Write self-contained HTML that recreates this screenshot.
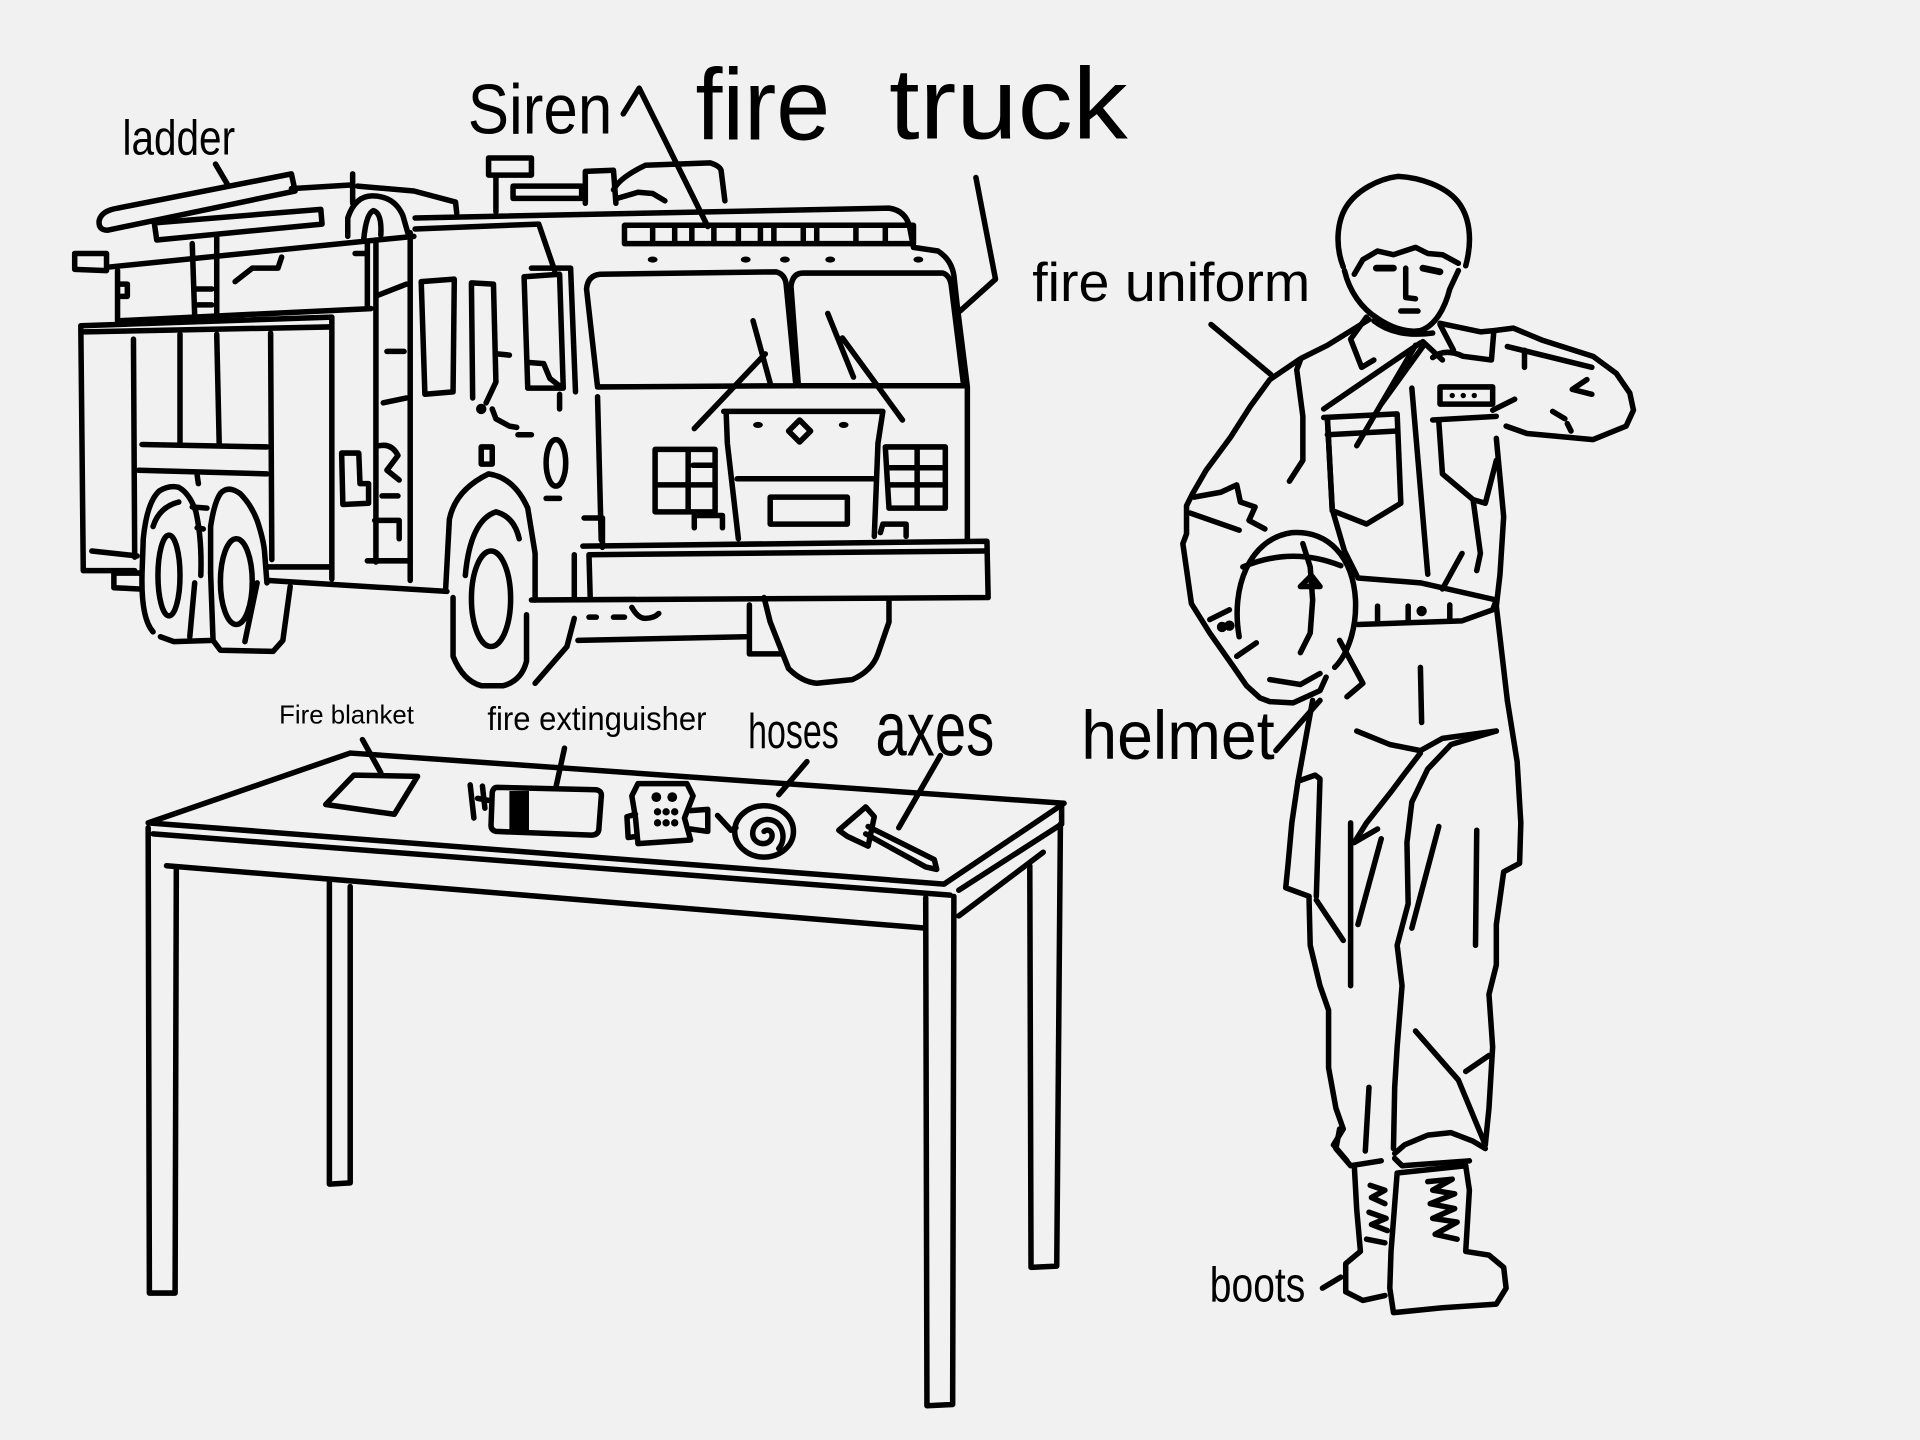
<!DOCTYPE html>
<html><head><meta charset="utf-8"><style>
html,body{margin:0;padding:0;background:#f1f1f1;}
svg{display:block}
</style></head><body>
<svg width="1920" height="1440" viewBox="0 0 1568 1176" xmlns="http://www.w3.org/2000/svg">
<rect width="1568" height="1176" fill="#f1f1f1"/>
<g fill="none" stroke="#000" stroke-width="4.5" stroke-linecap="round" stroke-linejoin="round">
<!-- ===== TRUCK ===== -->
<!-- ladder -->
<path d="M176,134 L186,151"/>
<path d="M81,180 Q83,172 96,170 L238,142 L241,156 L88,188 Q80,188 81,180 Z"/>
<path d="M126,182 L262,171 L263,183 L128,196 Z"/>
<path d="M238,154 L288,151 M288,142 L288,166 M292,152 L338,156 L372,165 L373,174"/>
<!-- upper body -->
<path d="M61,207 L87,207 L87,221 L61,220 Z"/>
<path d="M90,218 L338,193"/>
<path d="M96,221 L96,261 M96,232 L104,232 L104,242 L96,242"/>
<path d="M157,199 L159,258 M177,192 L177,258 M160,236 L173,236 M160,249 L173,249"/>
<path d="M300,199 L300,252 M290,207 L300,207"/>
<path d="M192,230 L206,219 L227,219 L230,210"/>
<path d="M96,262 L303,252"/>
<!-- rear box -->
<path d="M66,266 L271,259 L271,473 M66,266 L68,466 L110,466"/>
<path d="M69,271 L269,267"/>
<path d="M109,277 L110,455 M147,273 L147,362 M177,273 L179,362 M221,272 L222,457"/>
<path d="M116,363 L218,365 M113,384 L218,387 M161,388 L162,395"/>
<path d="M75,450 L112,454 M93,468 L114,468 M93,468 L93,480 L114,481"/>
<path d="M218,463 L271,463 M218,474 L365,483"/>
<!-- rear wheels -->
<path d="M125,516 Q115,505 116,468 L117,440 Q120,410 130,401 Q138,396 146,398 Q155,403 160,418 Q165,440 164,470"/>
<path d="M125,430 Q130,414 146,410"/>
<ellipse cx="138" cy="470" rx="9" ry="33"/>
<path d="M159,476 L155,520"/>
<path d="M131,520 L142,524 L174,523"/>
<path d="M172,468 L172,430 Q175,410 180,403 Q186,396 196,403 Q205,412 210,425 Q215,440 216,450 L218,476"/>
<path d="M172,468 L174,523 L180,531 L223,532 L231,523 L237,479"/>
<ellipse cx="193" cy="475" rx="13" ry="35"/>
<path d="M210,476 L200,524"/>
<path d="M157,414 L169,415 M161,431 L166,432"/>
<!-- pump panel arch -->
<path d="M284,193 L284,178 Q290,160 304,160 Q322,160 329,176 L333,190"/>
<path d="M297,196 Q299,174 305,172 Q312,174 311,192"/>
<path d="M307,196 L307,459 M335,190 L335,474"/>
<path d="M309,241 L332,232 M316,287 L330,287 M313,329 L332,325"/>
<path d="M279,370 L293,370 L294,395 L301,395 L301,411 L280,412 Z"/>
<path d="M310,364 Q320,362 325,372 L316,384 L326,392 M312,405 L325,405 M306,425 L326,425 L326,440 M300,458 L335,458"/>
<!-- cab side -->
<path d="M339,178 L726,170 Q740,172 743,186 L746,202 L766,205 Q777,212 779,225 L782,252 L790,316 L790,441"/>
<path d="M339,187 L440,183 L453,221"/>
<path d="M344,230 L371,228 L370,320 L347,322 Z"/>
<path d="M386,325 L385,231 L403,232 L405,312 L397,329"/>
<path d="M406,289 L416,290"/>
<path d="M428,226 L457,224 L460,317 L431,317 Z"/>
<path d="M434,219 L466,219 L470,320"/>
<path d="M432,296 L444,297 L449,309 L458,316"/>
<path d="M457,322 L457,334"/>
<path d="M402,334 L405,342 L416,348 L422,349 M423,355 L434,355"/>
<circle cx="393" cy="334" r="2" fill="#000"/>
<rect x="393" y="365" width="9" height="14"/>
<ellipse cx="454" cy="378" rx="8" ry="19"/>
<path d="M446,407 L457,407"/>
<!-- front wheel -->
<path d="M364,480 L367,424 Q372,400 399,387 Q420,390 431,415 L437,452 L437,490"/>
<path d="M370,488 L370,536 Q378,556 393,560 L411,560 Q426,556 430,540 L430,502"/>
<path d="M380,470 Q384,425 405,418 Q420,422 424,440"/>
<ellipse cx="401" cy="489" rx="16" ry="39"/>
<path d="M469,505 L463,528 L437,558"/>
<!-- top equipment -->
<path d="M399,129 L434,129 L434,143 L399,143 Z M405,143 L405,173"/>
<path d="M419,152 L475,152 L475,162 L419,162 Z"/>
<path d="M478,166 L478,140 L501,139 L503,166"/>
<path d="M501,155 Q506,145 527,135 L580,133 Q589,136 589,140 L592,164"/>
<path d="M504,162 L521,157 L533,158 L543,164"/>
<!-- siren bar -->
<path d="M510,184 L746,184 L746,199 L510,199 Z"/>
<path d="M533,186 L533,197 M551,186 L551,197 M565,186 L565,197 M583,186 L583,197 M603,186 L603,197 M621,186 L621,197 M632,186 L632,197 M656,186 L656,197 M667,186 L667,197 M699,186 L699,197 M723,186 L723,197"/>
<g fill="#000" stroke="none">
<ellipse cx="533" cy="212" rx="4" ry="2.5"/><ellipse cx="609" cy="212" rx="4" ry="2.5"/><ellipse cx="641" cy="212" rx="4" ry="2.5"/><ellipse cx="678" cy="212" rx="4" ry="2.5"/><ellipse cx="750" cy="212" rx="4" ry="2.5"/>
<ellipse cx="619" cy="347" rx="4" ry="2.5"/><ellipse cx="689" cy="347" rx="4" ry="2.5"/>
</g>
<!-- windshields -->
<path d="M479,236 Q480,225 490,224 L634,222 Q641,224 642,232 L650,315 L488,316 Z"/>
<path d="M646,234 Q647,223 656,223 L770,223 Q776,225 777,234 L787,315 L652,315 Z"/>
<path d="M615,262 L629,313 M625,289 L567,350"/>
<path d="M676,256 L697,308 M688,276 L737,343"/>
<!-- front face -->
<path d="M488,324 L491,441"/>
<path d="M591,336 L721,336 M593,336 L594,362 L603,440 M721,336 L717,362 L714,438"/>
<path d="M602,391 L714,391"/>
<path d="M629,406 L692,406 L692,428 L629,428 Z"/>
<path d="M653,343 L662,352 L653,361 L644,352 Z"/>
<path d="M535,367 L584,367 L584,418 L535,418 Z M562,367 L562,418 M535,396 L584,396 M566,380 L584,380"/>
<path d="M723,365 L772,365 L772,415 L726,415 Z M749,365 L749,415 M726,382 L772,382 M726,396 L772,396"/>
<path d="M567,431 L567,421 L590,421 L590,431 M719,435 L721,428 L740,428 L740,438"/>
<!-- bumper -->
<path d="M476,446 L806,442 L807,488 L434,490"/>
<path d="M481,453 L804,450 M481,453 L482,488"/>
<path d="M477,423 L492,423 L492,447 M469,453 L469,488"/>
<path d="M472,523 L609,520 M612,494 L612,534 L638,534"/>
<path d="M624,488 L629,508 L644,546 Q655,557 667,558 L696,555 Q712,548 717,534 L726,508 L726,491"/>
<path d="M481,504 L487,504 M501,504 L510,504 M516,496 Q521,505 527,505 Q534,505 538,501"/>
<!-- leaders -->
<path d="M509,93 L522,72 L578,185"/>
<path d="M797,145 L813,228 L784,254"/>
<!-- ===== TABLE ===== -->
<path d="M121,672 L286,615 L869,656 L771,722 Z"/>
<path d="M125,681 L776,731 M136,707 L756,758"/>
<path d="M783,727 L867,673 M783,748 L852,696 M867,656 L867,673"/>
<path d="M121,676 L122,1056 L143,1056 L144,708"/>
<path d="M269,721 L269,967 L286,966 L286,724"/>
<path d="M756,733 L757,1148 L778,1147 L779,732"/>
<path d="M841,707 L842,1035 L863,1034 L866,673"/>
<!-- blanket -->
<path d="M289,633 L341,634 L322,665 L266,657 Z M296,604 L311,631"/>
<!-- extinguisher -->
<path d="M406,643 L487,645 Q492,646 491,651 L489,678 Q488,682 483,682 L405,679 Q401,678 401,674 L402,647 Q403,643 406,643 Z"/>
<rect x="416" y="646" width="16" height="33" fill="#000" stroke="none"/>
<path d="M384,641 L387,668 M390,652 L401,654 M394,642 L396,660 M461,611 L454,643"/>
<!-- mask -->
<path d="M521,640 L561,640 L566,650 L559,668 L564,686 L521,689 L519,668 L516,650 Z"/>
<path d="M519,665 L512,667 L513,684 L520,683 M564,662 L578,661 L578,679 L564,677"/>
<g fill="#000" stroke="none">
<ellipse cx="536" cy="651" rx="4" ry="4"/><ellipse cx="549" cy="651" rx="4" ry="4"/>
<circle cx="537" cy="663" r="3"/><circle cx="544" cy="663" r="3"/><circle cx="551" cy="663" r="3"/>
<circle cx="537" cy="672" r="3"/><circle cx="544" cy="672" r="3"/><circle cx="551" cy="672" r="3"/>
</g>
<!-- hose -->
<ellipse cx="624" cy="679" rx="24" ry="21"/>
<path d="M624,679 C628,676 632,680 630,685 C627,691 617,690 615,683 C613,674 622,667 631,670 C640,673 642,686 636,693"/>
<path d="M586,666 L597,678 L601,676 M659,622 L636,649"/>
<!-- axe -->
<path d="M685,678 L707,659 L714,667 L709,691 L692,683 Z"/>
<path d="M709,675 L763,702 L765,710 L756,708 L707,681"/>
<path d="M768,617 L734,676"/>
<!-- ===== PERSON ===== -->
<path d="M989,265 L1038,306"/>
<path d="M1097,218 C1090,200 1092,180 1100,168 C1108,156 1125,146 1142,144 C1160,145 1180,152 1190,164 C1200,176 1203,195 1197,217"/>
<path d="M1106,224 L1113,212 L1125,205 L1138,208 L1147,205 L1156,202 L1166,207 L1178,208 L1191,215"/>
<path d="M1098,221 C1102,238 1112,252 1125,260 C1137,268 1150,272 1160,270 C1172,266 1180,252 1184,236 L1191,221"/>
<path d="M1124,219 L1138,219 M1162,219 L1176,222" stroke-width="5.5"/>
<path d="M1148,219 L1148,243 L1156,244 M1144,254 L1158,254"/>
<!-- neck/collar -->
<path d="M1116,259 L1103,277 L1112,300 L1122,294"/>
<path d="M1122,262 Q1140,276 1170,272"/>
<path d="M1176,265 L1187,286"/>
<path d="M1160,280 L1081,334 M1156,282 L1108,364 M1162,283 L1128,330 M1162,279 L1178,294"/>
<!-- left arm -->
<path d="M1118,261 L1084,282 L1062,293 L1037,310 L1021,332 L1005,357 L985,384 L974,403 L969,413 L969,436 L966,444 L973,493 L988,517 L1007,544 L1018,560 L1029,570 L1037,573 L1056,574 L1078,564 L1083,553"/>
<path d="M1062,294 L1059,302 L1064,340 L1064,376 L1053,393"/>
<path d="M975,406 L997,402 L1010,396 L1013,410 L1025,414 L1020,425 L1033,432"/>
<path d="M972,419 L1012,433"/>
<path d="M988,506 L1004,498 M1010,536 L1026,525"/>
<circle cx="998" cy="512" r="2" fill="#000"/><circle cx="1004" cy="511" r="2" fill="#000"/>
<path d="M1037,555 L1062,559 L1078,550 M1094,523 L1113,558 L1100,569"/>
<!-- helmet -->
<path d="M1012,520 C1005,480 1020,440 1055,435 C1085,433 1105,455 1107,490 C1108,515 1100,535 1090,545"/>
<path d="M1015,463 Q1055,446 1095,462"/>
<path d="M1064,444 L1070,463 L1072,490 L1070,517 L1062,533 M1062,479 L1071,470 L1078,479 Z"/>
<path d="M1042,613 L1078,572"/>
<!-- torso -->
<path d="M1084,341 L1088,416 L1098,450 L1108,470"/>
<path d="M1081,341 L1141,338 L1144,411 L1116,428 L1088,417 L1084,341 M1084,355 L1141,352"/>
<path d="M1153,317 L1166,469"/>
<path d="M1170,343 L1222,340 M1175,344 L1178,387 L1203,408 L1213,411 L1222,376"/>
<path d="M1222,358 L1228,422 L1225,469 L1222,495"/>
<path d="M1203,408 L1209,452 L1206,466 M1194,452 L1178,481"/>
<path d="M1109,472 L1160,476 L1222,490 L1219,498 L1194,507 L1109,510"/>
<path d="M1125,495 L1125,507 M1150,495 L1150,507 M1184,494 L1184,506"/>
<circle cx="1161" cy="499" r="2" fill="#000"/>
<path d="M1222,495 L1231,572 M1160,545 L1161,590"/>
<!-- raised arm -->
<path d="M1176,264 L1209,271 L1220,270 L1236,268 L1260,278 L1301,291 L1320,305 L1331,321 L1334,335 L1328,348 L1301,359 L1247,354 L1230,348"/>
<path d="M1231,283 L1300,300 M1245,286 L1245,300 M1296,310 L1284,318 L1300,322"/>
<path d="M1170,292 Q1180,284 1195,291 L1218,294 L1220,270"/>
<path d="M1176,316 L1219,316 L1219,330 L1176,330 Z"/>
<g fill="#000" stroke="none"><circle cx="1186" cy="323" r="2.2"/><circle cx="1195" cy="323" r="2.2"/><circle cx="1204" cy="323" r="2.2"/></g>
<path d="M1219,335 L1237,326 M1268,336 L1278,342 M1280,346 L1283,352"/>
<!-- legs -->
<path d="M1072,572 L1066,605 L1060,638 L1055,672 L1052,705 L1050,725 L1069,732"/>
<path d="M1060,638 L1074,633 L1078,636 L1075,732"/>
<path d="M1069,732 L1070,772 L1078,805 L1085,825 L1085,872 L1091,905 L1097,922 L1089,935 L1100,948"/>
<path d="M1103,672 L1103,805 M1075,735 L1097,768 M1128,685 L1109,755 M1106,688 L1125,677 M1118,888 L1115,940"/>
<path d="M1108,597 L1135,608 L1160,613 L1178,603 L1222,597"/>
<path d="M1160,615 L1147,632 L1135,648 L1116,672 L1106,688"/>
<path d="M1222,597 L1185,608 L1166,628 L1153,655 L1149,688 L1150,738 L1141,772 L1145,805 L1141,855 L1139,888 L1138,938"/>
<path d="M1231,572 L1239,622 L1242,672 L1241,705 L1228,712 L1222,755 L1222,788 L1216,812 L1219,855 L1216,905 L1213,935"/>
<path d="M1206,678 L1205,772 M1175,675 L1153,758 M1156,842 L1191,882 L1213,935 M1197,875 L1216,862"/>
<path d="M1139,942 L1147,935 L1166,927 L1185,925 L1203,932 L1213,938 M1139,946 L1145,952 L1200,948"/>
<path d="M1094,922 L1091,938 L1103,952 L1128,948"/>
<!-- boots -->
<path d="M1106,952 L1108,988 L1111,1022 L1099,1032 L1099,1055 L1113,1062 L1131,1058"/>
<path d="M1141,958 L1197,952 L1200,972 L1197,1022 L1216,1025 L1228,1035 L1230,1052 L1222,1065 L1178,1068 L1138,1072 L1135,1052 L1136,1022 Z"/>
<path d="M1119,968 L1131,972 L1120,978 L1131,983 M1118,990 L1132,995 L1120,1000 L1133,1005 M1116,1012 L1131,1015"/>
<path d="M1166,965 L1186,963 L1170,972 L1188,975 L1168,983 L1188,987 L1170,995 L1190,998 L1172,1008 L1190,1012"/>
<path d="M1080,1052 L1095,1043"/>
</g>
<g font-family="'Liberation Sans', sans-serif" fill="#000">
<text transform="translate(100,126) scale(1,1.25)" font-size="32" textLength="92" lengthAdjust="spacingAndGlyphs">ladder</text>
<text transform="translate(382,109) scale(1,1.25)" font-size="46" textLength="118" lengthAdjust="spacingAndGlyphs">Siren</text>
<text transform="translate(568,114) scale(1,1.25)" font-size="66" textLength="110" lengthAdjust="spacingAndGlyphs">fire</text>
<text transform="translate(726,113) scale(1,1.25)" font-size="66" textLength="195" lengthAdjust="spacingAndGlyphs">truck</text>
<text transform="translate(843,246) scale(1,1.25)" font-size="36" textLength="227" lengthAdjust="spacingAndGlyphs">fire uniform</text>
<text transform="translate(883,620) scale(1,1.25)" font-size="45" textLength="158" lengthAdjust="spacingAndGlyphs">helmet</text>
<text transform="translate(988,1063) scale(1,1.25)" font-size="32" textLength="78" lengthAdjust="spacingAndGlyphs">boots</text>
<text transform="translate(228,591) scale(1,1.25)" font-size="17" textLength="110" lengthAdjust="spacingAndGlyphs">Fire blanket</text>
<text transform="translate(398,596) scale(1,1.25)" font-size="22" textLength="179" lengthAdjust="spacingAndGlyphs">fire extinguisher</text>
<text transform="translate(611,611) scale(1,1.25)" font-size="32" textLength="74" lengthAdjust="spacingAndGlyphs">hoses</text>
<text transform="translate(715,617) scale(1,1.25)" font-size="50" textLength="97" lengthAdjust="spacingAndGlyphs">axes</text>
</g>
</svg>
</body></html>
